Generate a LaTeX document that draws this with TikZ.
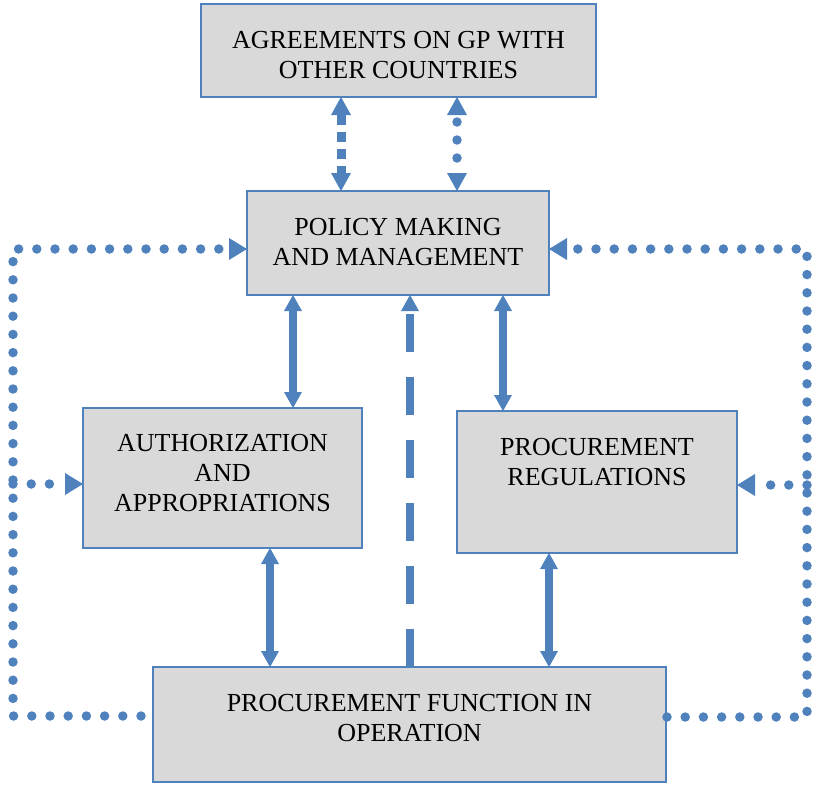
\documentclass[tikz,border=0pt]{standalone}
\usepackage{fontspec}
\setmainfont{Liberation Serif}
\usetikzlibrary{arrows.meta}
\definecolor{cblue}{RGB}{79,129,189}
\definecolor{bgray}{RGB}{217,217,217}
\begin{document}
\begin{tikzpicture}[x=1pt,y=-1pt,
  box/.style={draw=cblue,line width=2pt,fill=bgray,inner sep=0pt,outer sep=0pt},
  txt/.style={align=center,inner sep=0pt,font=\fontsize{26}{30}\selectfont,anchor=north},
  bigarrow/.style={draw=cblue,line width=8pt,{Triangle[width=18pt,length=16pt,line width=0pt 0]}-{Triangle[width=18pt,length=16pt,line width=0pt 0]}},
  onearrow/.style={draw=cblue,line width=8pt,dash pattern=on 38pt off 25pt,-{Triangle[width=18pt,length=16pt,line width=0pt 0]}},
  sqarrow/.style={draw=cblue,line width=9pt,dash pattern=on 10pt off 7pt,{Triangle[width=20pt,length=18pt,line width=0pt 0]}-{Triangle[width=20pt,length=18pt,line width=0pt 0]}},
  dotdouble/.style={draw=cblue,line width=9.5pt,line cap=round,dash pattern=on 0pt off 18pt,dash phase=11pt,{Triangle[width=20pt,length=18pt,line width=0pt 0]}-{Triangle[width=20pt,length=18pt,line width=0pt 0]}},
  dotline/.style={draw=cblue,line width=9.5pt,line cap=round,dash pattern=on 0pt off 18.2pt},
  dotarrow/.style={dotline,-{Triangle[width=22pt,length=18pt,line width=0pt 0]}}
]
\useasboundingbox (0,0) rectangle (813,787);

% boxes
\node[box,minimum width=395pt,minimum height=93pt] (top) at (398.5,50.5) {};
\node[box,minimum width=302pt,minimum height=104pt] (pol) at (398,243) {};
\node[box,minimum width=279pt,minimum height=140pt] (auth) at (222.5,478) {};
\node[box,minimum width=280pt,minimum height=142pt] (reg) at (597,482) {};
\node[box,minimum width=513pt,minimum height=115pt] (pf) at (409.5,724.5) {};

% texts
\node[txt] (topt) at ([yshift=-27.4pt]top.north) {AGREEMENTS ON GP WITH\\OTHER COUNTRIES};
\node[txt] (polt) at ([yshift=-27.4pt]pol.north) {POLICY MAKING\\AND MANAGEMENT};
\node[txt] (autht) at ([yshift=-26pt]auth.north) {AUTHORIZATION\\AND\\APPROPRIATIONS};
\node[txt] (regt) at ([yshift=-27.4pt]reg.north) {PROCUREMENT\\REGULATIONS};
\node[txt] (pft) at ([yshift=-27.4pt]pf.north) {PROCUREMENT FUNCTION IN\\OPERATION};

% top connectors
\draw[sqarrow] ([xshift=-57.5pt]top.south) -- ([xshift=-57pt]pol.north);
\draw[dotdouble] ([xshift=58.5pt]top.south) -- ([xshift=59pt]pol.north);

% solid double arrows
\draw[bigarrow] ([xshift=-105pt]pol.south) -- ([xshift=70.5pt]auth.north);
\draw[bigarrow] ([xshift=105pt]pol.south) -- ([xshift=-94pt]reg.north);
\draw[bigarrow] ([xshift=47.5pt]auth.south) -- ([xshift=-139.5pt]pf.north);
\draw[bigarrow] ([xshift=-48pt]reg.south) -- ([xshift=139.5pt]pf.north);

% middle dashed arrow
\draw[onearrow] ([xshift=0.5pt]pf.north) -- ([xshift=12pt]pol.south);

% dotted loops
\coordinate (LB) at (13,716);
\coordinate (LT) at (13,249);
\coordinate (LM) at (13,484);
\coordinate (RB) at (807,717);
\coordinate (RT) at (807,249);
\coordinate (RM) at (807,485);

\draw[dotarrow] ([xshift=-12pt,yshift=8.5pt]pf.west) -- (LB) -- (LT) -- ([yshift=-6pt]pol.west);
\draw[dotarrow] (LM) -- ([yshift=-6pt]auth.west);
\draw[dotarrow] ([xshift=1pt,yshift=7.5pt]pf.east) -- (RB) -- (RT) -- ([yshift=-6pt]pol.east);
\draw[dotarrow] (RM) -- ([yshift=-3pt]reg.east);
\end{tikzpicture}
\end{document}
